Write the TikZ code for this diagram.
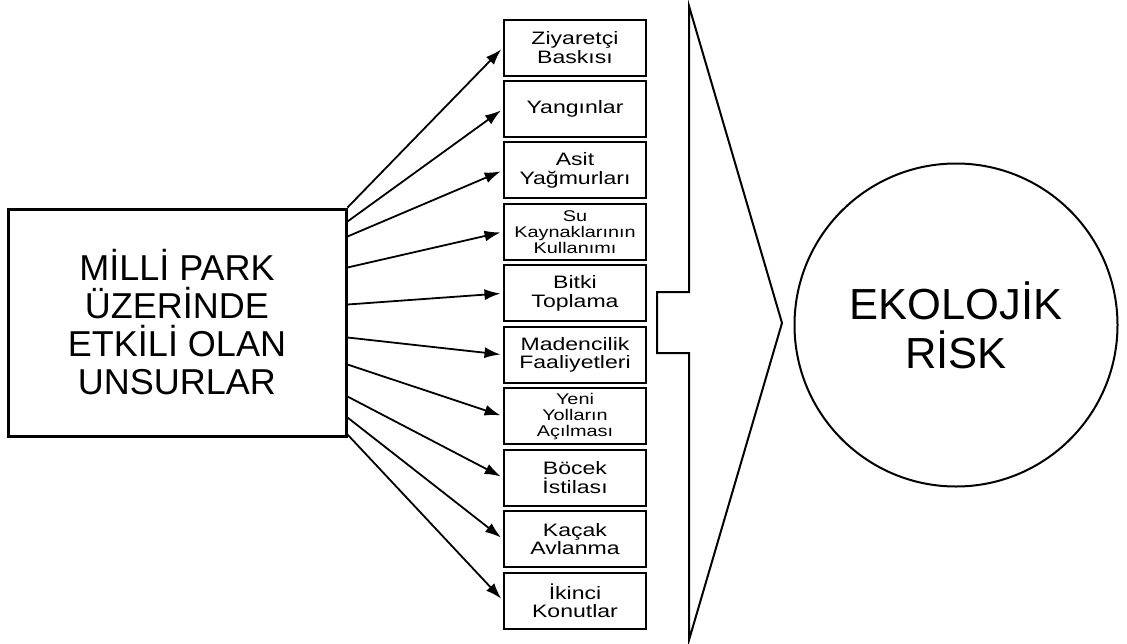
\documentclass[tikz,border=0pt]{standalone}
\usepackage{fontspec}
\setmainfont{Liberation Sans}
\newfontfamily\boxfont[FakeStretch=1.28]{Liberation Sans}
\usetikzlibrary{arrows.meta}

\begin{document}
\begin{tikzpicture}[x=1pt,y=-1pt,
  kutu/.style={draw, line width=2pt, minimum width=142pt, minimum height=56pt, inner sep=0pt, align=center},
  orta/.style={font={\boxfont\fontsize{18}{18.5}\selectfont}},
  kucuk/.style={font={\boxfont\fontsize{15.5}{16}\selectfont}},
  ok/.style={-{Latex[length=16pt,width=11pt]}, line width=1.8pt, shorten >=2.5pt}]
\useasboundingbox (0,0) rectangle (1127,643);
\node[draw, line width=3pt, minimum width=338pt, minimum height=227pt, align=center,
  font={\fontsize{36}{38}\selectfont}] (unsur) at (177,322.5)
  {MİLLİ PARK\\ÜZERİNDE\\ETKİLİ OLAN\\UNSURLAR};
\foreach \i/\f/\t in {1/orta/{Ziyaretçi\\Baskısı}, 2/orta/{Yangınlar},
    3/orta/{Asit\\Yağmurları}, 4/kucuk/{Su\\Kaynaklarının\\Kullanımı},
    5/orta/{Bitki\\Toplama}, 6/orta/{Madencilik\\Faaliyetleri},
    7/kucuk/{Yeni\\Yolların\\Açılması}, 8/orta/{Böcek\\İstilası},
    9/orta/{Kaçak\\Avlanma}, 10/orta/{İkinci\\Konutlar}}
  \node[kutu,\f] (f\i) at (575,{47.5+(\i-1)*61.45}) {\t};
\foreach \i/\d in {1/0,2/14,3/29,4/60,5/97,6/130,7/157,8/189,9/210,10/227}
  \draw[ok] ([yshift=-\d pt]unsur.north east) -- (f\i.west);
\draw[line width=2pt] (689,6) -- (689,292) -- (657,292) -- (657,353) -- (689,353)
  -- (689,640) -- (782,323) -- cycle;
\node[draw, circle, line width=2pt, minimum size=323pt, align=center,
  font={\fontsize{43.5}{49}\selectfont}] (risk) at (956,325) {EKOLOJİK\\RİSK};
\end{tikzpicture}
\end{document}
